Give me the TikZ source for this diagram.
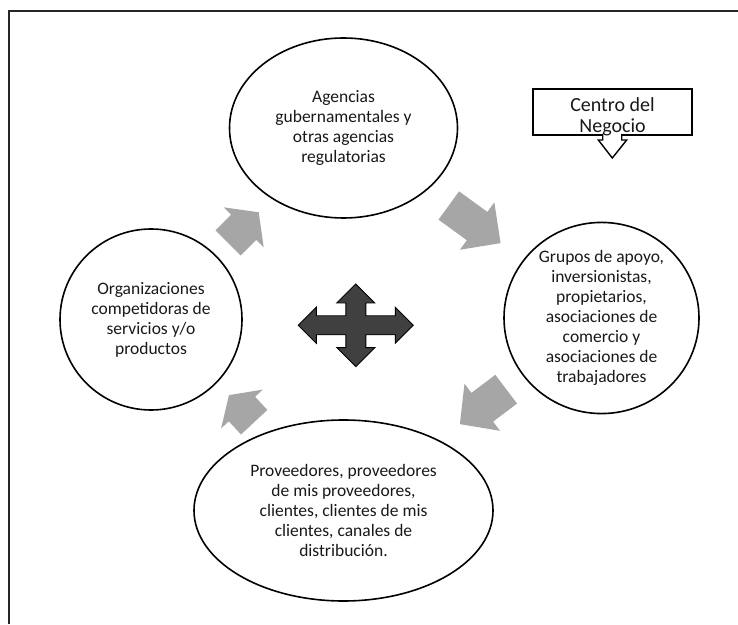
\documentclass[tikz,border=0pt]{standalone}
\usepackage{fontspec}
\setmainfont{Carlito}
\usetikzlibrary{shapes.geometric}
\newcommand{\blockarrow}[7]{%
  \begin{scope}[shift={(#1,#2)},rotate=#3]
    \fill[grayarrow] (0,-#5) -- (#4,-#5) -- (#4,-#6) -- ({#4+#7},0) -- (#4,#6) -- (#4,#5) -- (0,#5) -- cycle;
  \end{scope}}
\begin{document}
\begin{tikzpicture}[x=1pt,y=1pt,
  bubble/.style={draw=black,line width=1.6pt,ellipse,inner sep=0pt,align=center,
    font=\fontsize{17.5}{20}\selectfont,text=black!90},
  grayarrow/.style={fill=black!35},
  crossarrow/.style={fill=black!75,draw=black,line width=0.9pt,line join=miter},
  framelines/.style={draw=black!85,line width=1.4pt},
  centerbox/.style={draw=black,line width=1.4pt,rectangle,inner sep=0pt,
    minimum width=159pt,minimum height=46pt},
  centertext/.style={inner sep=0pt,align=center,font=\fontsize{20}{21}\selectfont,text=black!90},
  downarrow/.style={draw=black,fill=white,line width=1.4pt,line join=miter}]
\useasboundingbox (0,0) rectangle (738,624);
\fill[white] (0,0) rectangle (738,624);
% frame
\draw[framelines] (9,0) -- (9,613) -- (738,613);
% ellipses
\node[bubble,minimum width=228pt,minimum height=180pt] (top) at (343.5,496)
  {Agencias\\gubernamentales y\\otras agencias\\regulatorias};
\node[bubble,minimum width=182pt,minimum height=181pt] (left) at (151,304.5)
  {Organizaciones\\competidoras de\\servicios y/o\\productos};
\node[bubble,minimum width=195pt,minimum height=180pt] (right) at (601.5,306)
  {Grupos de apoyo,\\inversionistas,\\propietarios,\\asociaciones de\\comercio y\\asociaciones de\\trabajadores};
\node[bubble,minimum width=299pt,minimum height=181pt] (bottom) at (343.5,113.5)
  {Proveedores, proveedores\\de mis proveedores,\\clientes, clientes de mis\\clientes, canales de\\distribuci\'on.};
% gray block arrows
\blockarrow{228.1}{381.1}{45}{22}{17.7}{28.3}{21.3}
\blockarrow{448.8}{418.5}{-36}{35}{17.5}{29.3}{29}
\blockarrow{506.2}{234.8}{217}{30}{18}{29.5}{28}
\blockarrow{254.2}{201.8}{133}{18}{18}{28.5}{19}
% central four-way arrow
\begin{scope}[shift={(355.8,298.7)}]
\draw[crossarrow] (57.5,0) -- (39.5,18) -- (39.5,9.5) -- (10,9.5) -- (10,22.3) -- (19,22.3) -- (0,41.3)
  -- (-19,22.3) -- (-10,22.3) -- (-10,9.5) -- (-39.5,9.5) -- (-39.5,18) -- (-57.5,0)
  -- (-39.5,-18) -- (-39.5,-9.5) -- (-10,-9.5) -- (-10,-22.3) -- (-19,-22.3) -- (0,-41.3)
  -- (19,-22.3) -- (10,-22.3) -- (10,-9.5) -- (39.5,-9.5) -- (39.5,-18) -- cycle;
\end{scope}
% Centro del Negocio box
\node[centerbox] (centro) at (612.5,512) {};
\coordinate (stemL) at (602.7,490);
\coordinate (stemR) at (621.7,490);
\draw[downarrow] (stemL) -- (602.7,484) -- (598.3,484) -- (612.3,466) -- (626.7,484) -- (621.7,484) -- (stemR);
\node[centertext] (centrolabel) at (612.5,507.5) {Centro del\\Negocio};
\end{tikzpicture}
\end{document}
